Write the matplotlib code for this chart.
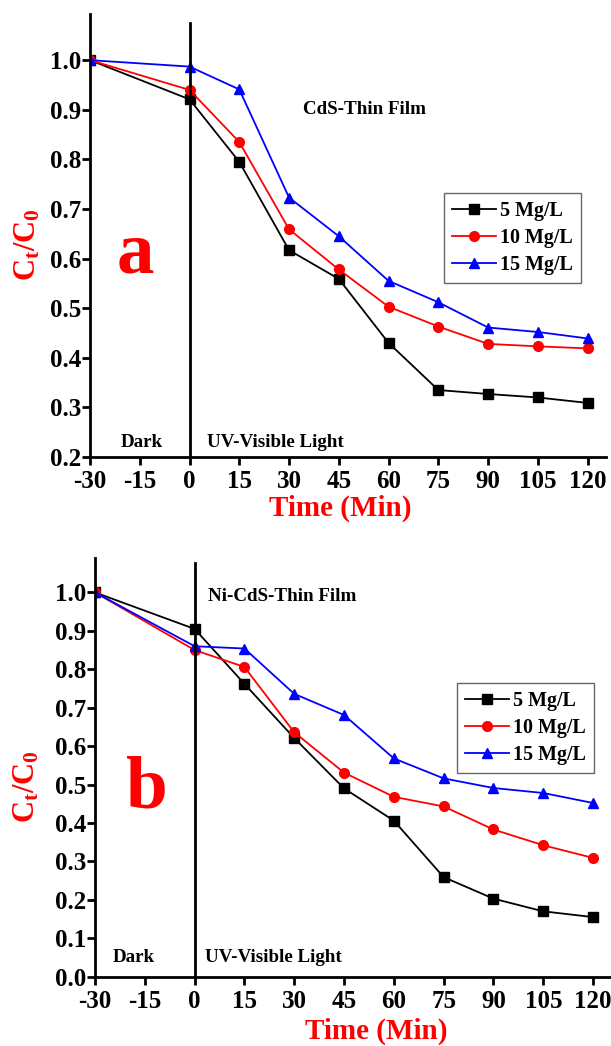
import numpy as np
import matplotlib
matplotlib.use("Agg")
import matplotlib.pyplot as plt

plt.rcParams['font.family'] = ['Liberation Serif', 'DejaVu Serif']
plt.rcParams['font.weight'] = 'bold'
plt.rcParams['mathtext.fontset'] = 'custom'
plt.rcParams['mathtext.rm'] = 'Liberation Serif:bold'
plt.rcParams['mathtext.it'] = 'Liberation Serif:bold'
plt.rcParams['mathtext.bf'] = 'Liberation Serif:bold'

# data
time = [-30, 0, 15, 30, 45, 60, 75, 90, 105, 120]
labels = ['5 Mg/L', '10 Mg/L', '15 Mg/L']

cds_5 = [1.0, 0.921, 0.795, 0.617, 0.559, 0.430, 0.335, 0.327, 0.320, 0.309]
cds_10 = [1.0, 0.940, 0.835, 0.659, 0.578, 0.503, 0.463, 0.428, 0.423, 0.419]
cds_15 = [1.0, 0.987, 0.941, 0.723, 0.645, 0.555, 0.512, 0.461, 0.452, 0.439]

ni_5 = [1.0, 0.905, 0.762, 0.621, 0.490, 0.406, 0.259, 0.203, 0.170, 0.155]
ni_10 = [1.0, 0.850, 0.806, 0.636, 0.531, 0.468, 0.443, 0.383, 0.342, 0.309]
ni_15 = [1.0, 0.860, 0.854, 0.736, 0.681, 0.568, 0.516, 0.491, 0.478, 0.452]

xticks = [-30, -15, 0, 15, 30, 45, 60, 75, 90, 105, 120]

colors = ['black', '#ff0000', '#0000ff']
markers = ['s', 'o', '^']

fig = plt.figure(figsize=(6.11, 10.46), dpi=100)


def panel(rect, series, ylim, yticks, vtop, film, film_xy, letter, letter_xy,
          dark_xy, uv_xy, leg_anchor):
    ax = fig.add_axes(rect)
    for y, c, m, lab in zip(series, colors, markers, labels):
        ax.plot(time, y, color=c, marker=m, markersize=7, lw=1.3, label=lab)
    ax.axvline(0, ymin=0, ymax=vtop, color='black', lw=2)
    ax.set_xlim(-30, 125.4)
    ax.set_ylim(*ylim)
    ax.set_xticks(xticks)
    ax.set_xticklabels([str(t) for t in xticks])
    ax.set_yticks(yticks)
    ax.set_yticklabels(['%.1f' % v for v in yticks])
    for s in ['top', 'right']:
        ax.spines[s].set_visible(False)
    for s in ['left', 'bottom']:
        ax.spines[s].set_linewidth(2)
    ax.tick_params(direction='out', length=5.5, width=2, labelsize=18)
    ax.tick_params(axis='x', pad=4)
    ax.tick_params(axis='y', pad=1)
    for lab in ax.get_xticklabels() + ax.get_yticklabels():
        lab.set_fontweight('bold')
    ax.text(film_xy[0], film_xy[1], film, fontsize=13.7, fontweight='bold',
            va='center', ha='left')
    ax.text(letter_xy[0], letter_xy[1], letter, fontsize=54, fontweight='bold',
            color='#ff0000', ha='center', va='baseline')
    ax.text(dark_xy[0], dark_xy[1], 'Dark', fontsize=13.7, fontweight='bold',
            ha='center', va='center')
    ax.text(uv_xy[0], uv_xy[1], 'UV-Visible Light', fontsize=13.7,
            fontweight='bold', ha='left', va='center')
    leg = ax.legend(loc='upper right', bbox_to_anchor=leg_anchor,
                    bbox_transform=fig.transFigure, borderaxespad=0,
                    fancybox=False, framealpha=1, edgecolor='#666666',
                    prop={'family': 'Liberation Serif', 'weight': 'bold',
                          'size': 14.4},
                    handlelength=2.2, handletextpad=0.2, labelspacing=0.35,
                    borderpad=0.4)
    leg.get_frame().set_linewidth(1)
    return ax


panel([0.1473, 0.5631, 0.8437, 0.4235], [cds_5, cds_10, cds_15],
      (0.2, 1.093), np.round(np.arange(0.2, 1.01, 0.1), 1), 0.98,
      'CdS-Thin Film', (34.3, 0.901), 'a', (-16.3, 0.571),
      (-14.3, 0.23), (5.3, 0.23), (0.951, 0.8155))

panel([0.1555, 0.0663, 0.8445, 0.4], [ni_5, ni_10, ni_15],
      (0.0, 1.089), np.round(np.arange(0.0, 1.01, 0.1), 1), 0.989,
      'Ni-CdS-Thin Film', (4.0, 0.989), 'b', (-14.5, 0.439),
      (-18.3, 0.049), (3.1, 0.049), (0.9727, 0.3473))

ylab = r'C$_\mathrm{t}$/C$_\mathrm{0}$'
fig.text(0.0458, 0.7658, ylab, rotation=90, color='#ff0000', fontsize=22,
         fontweight='bold', ha='center', va='center')
fig.text(0.0442, 0.2476, ylab, rotation=90, color='#ff0000', fontsize=22,
         fontweight='bold', ha='center', va='center')
fig.text(0.5565, 0.5143, 'Time (Min)', color='#ff0000', fontsize=21,
         fontweight='bold', ha='center', va='center')
fig.text(0.6154, 0.0143, 'Time (Min)', color='#ff0000', fontsize=21,
         fontweight='bold', ha='center', va='center')

fig.savefig('out.png', dpi=100)
